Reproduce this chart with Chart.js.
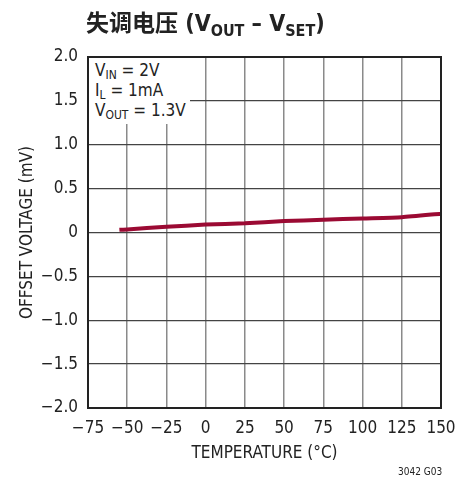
<!DOCTYPE html>
<html><head><meta charset="utf-8">
<script src="https://cdn.jsdelivr.net/npm/chart.js@4"></script>
<style>
html,body{margin:0;padding:0;background:#fff;}
#wrap{position:relative;width:471px;height:478px;overflow:hidden;}
canvas{position:absolute;left:0;top:0;}
.cond{font-family:'Liberation Sans Narrow','DejaVu Sans Condensed','Roboto Condensed',Roboto,sans-serif;color:#222;}
#title{position:absolute;left:86px;top:6px;font-size:23px;font-weight:bold;white-space:nowrap;line-height:30px;}
#title .cjk{font-family:'Noto Sans CJK SC',sans-serif;}
#title sub{font-size:16px;vertical-align:-5px;line-height:0;}
#note{position:absolute;left:89px;top:58px;width:101px;height:66px;background:#fff;font-size:17px;line-height:20px;padding:2px 0 0 6px;box-sizing:border-box;white-space:nowrap;}
#note sub{font-size:12px;vertical-align:-3px;line-height:0;}
#foot{position:absolute;left:398px;top:466px;font-size:10px;white-space:nowrap;}
</style></head>
<body><div id="wrap">
<canvas id="c" width="471" height="478"></canvas>
<div id="title" class="cond"><span class="cjk">失调电压</span> (V<sub>OUT</sub> – V<sub>SET</sub>)</div>
<div id="note" class="cond">V<sub>IN</sub> = 2V<br>I<sub>L</sub> = 1mA<br>V<sub>OUT</sub> = 1.3V</div>
<div id="foot" class="cond">3042 G03</div>
</div>
<script>
const temperatures = [-55, -50, -25, 0, 25, 50, 75, 100, 125, 150];
const offsetVoltage = [0.03, 0.035, 0.065, 0.09, 0.105, 0.13, 0.145, 0.16, 0.175, 0.215];
const xTickValues = [-75, -50, -25, 0, 25, 50, 75, 100, 125, 150];
const xTickLabels = ['\u221275', '\u221250', '\u221225', '0', '25', '50', '75', '100', '125', '150'];
const yTickValues = [2, 1.5, 1, 0.5, 0, -0.5, -1, -1.5, -2];
const yTickLabels = ['2.0', '1.5', '1.0', '0.5', '0', '\u22120.5', '\u22121.0', '\u22121.5', '\u22122.0'];

const FONT = "'Liberation Sans Narrow','DejaVu Sans Condensed','Roboto Condensed',Roboto,sans-serif";
Chart.defaults.font.family = FONT;
Chart.defaults.color = '#222';

function labelFor(values, labels, v) {
  for (let i = 0; i < values.length; i++) if (Math.abs(values[i] - v) < 1e-6) return labels[i];
  return '';
}

new Chart(document.getElementById('c'), {
  type: 'line',
  data: {
    datasets: [{
      data: temperatures.map((t, i) => ({x: t, y: offsetVoltage[i]})),
      borderColor: '#9b0a33',
      borderWidth: 4,
      pointRadius: 0,
      tension: 0.2,
      fill: false
    }]
  },
  options: {
    responsive: false,
    animation: false,
    layout: {padding: {left: 0, right: 30, top: 57, bottom: 0}},
    plugins: {legend: {display: false}, tooltip: {enabled: false}},
    scales: {
      x: {
        type: 'linear', min: -75, max: 150,
        afterBuildTicks: s => { s.ticks = xTickValues.map(v => ({value: v})); },
        afterFit: s => { s.height = 70; },
        ticks: {font: {size: 17}, padding: 10, maxRotation: 0,
          callback: v => labelFor(xTickValues, xTickLabels, v)},
        grid: {color: '#8a8a8a', lineWidth: 1.5, drawTicks: false},
        border: {color: '#222', width: 2},
        title: {display: true, text: 'TEMPERATURE (°C)', font: {size: 17}, padding: {top: 0, bottom: 14}}
      },
      y: {
        type: 'linear', min: -2, max: 2,
        afterBuildTicks: s => { s.ticks = yTickValues.map(v => ({value: v})); },
        afterFit: s => { s.width = 88; },
        ticks: {font: {size: 17}, padding: 10,
          callback: v => labelFor(yTickValues, yTickLabels, v)},
        grid: {color: '#444', lineWidth: 1.3, drawTicks: false},
        border: {color: '#222', width: 2},
        title: {display: true, text: 'OFFSET VOLTAGE (mV)', font: {size: 17}, padding: {top: 17, bottom: 0}}
      }
    }
  },
  plugins: [{
    id: 'frame',
    afterDraw(chart) {
      const {ctx, chartArea: a} = chart;
      ctx.save();
      ctx.strokeStyle = '#222';
      ctx.lineWidth = 2;
      ctx.strokeRect(a.left, a.top, a.right - a.left, a.bottom - a.top);
      ctx.restore();
    }
  }]
});
</script>
</body></html>
